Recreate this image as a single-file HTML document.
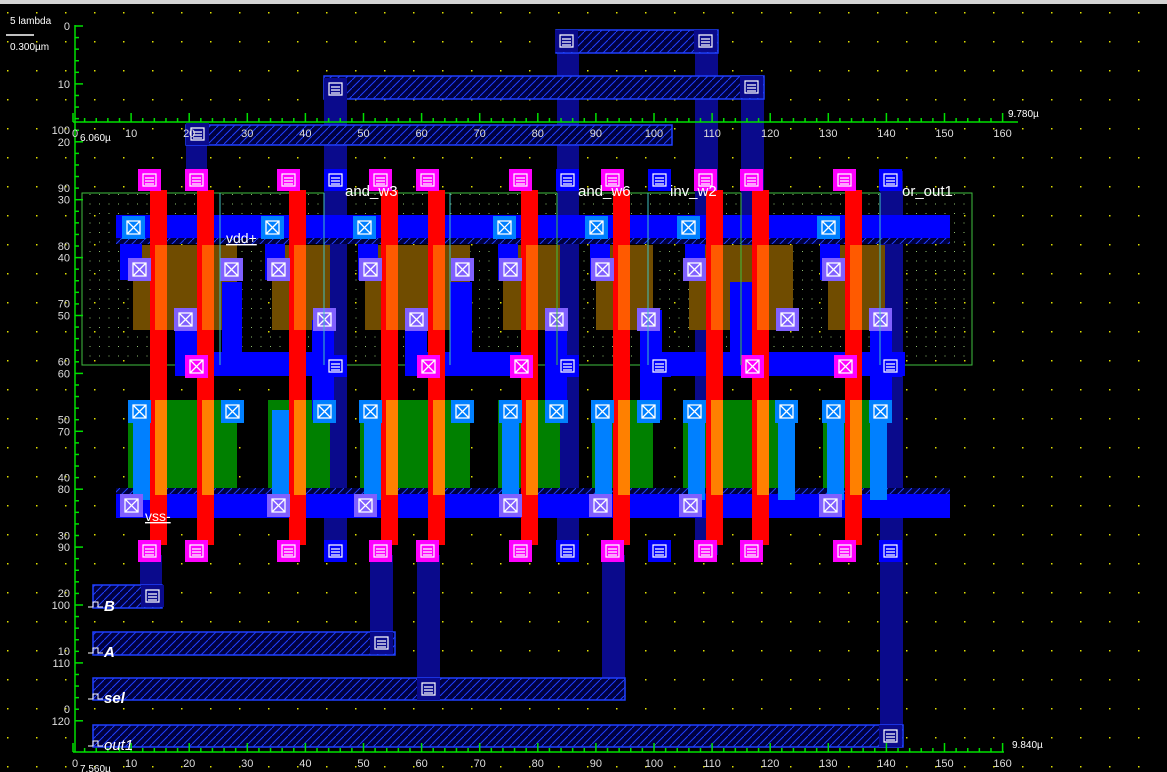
<!DOCTYPE html>
<html><head><meta charset="utf-8"><style>
html,body{margin:0;padding:0;background:#000;width:1167px;height:772px;overflow:hidden}
svg{display:block}
text{font-family:"Liberation Sans",sans-serif}
</style></head><body>
<svg id="L" width="1167" height="772" viewBox="0 0 1167 772">
<defs>
<pattern id="hatch" width="8" height="8" patternUnits="userSpaceOnUse"><rect width="8" height="8" fill="#000040"/><path d="M-2,10 L10,-2" stroke="#1f3fff" stroke-width="1"/></pattern>
<pattern id="cellgrid" width="9.5" height="9.5" patternUnits="userSpaceOnUse"><rect x="4" y="4" width="1" height="1" fill="#8fbf6f"/></pattern>
</defs>
<rect x="0" y="0" width="1167" height="4" fill="#d4d4d4"/>
<g id="grid"></g>
<rect x="82" y="193" width="890" height="172" fill="url(#cellgrid)" stroke="#3fbf3f" stroke-width="1"/>
<g id="layers"></g>
<g id="axes"></g>
<g id="labels"></g>
</svg>
<script>
const NS='http://www.w3.org/2000/svg';
const svg=document.getElementById('L');
const layers=document.getElementById('layers');
function R(g,x,y,w,h,fill,stroke,name){const r=document.createElementNS(NS,'rect');r.setAttribute('x',x);r.setAttribute('y',y);r.setAttribute('width',w);r.setAttribute('height',h);r.setAttribute('fill',fill);if(stroke){r.setAttribute('stroke',stroke);r.setAttribute('stroke-width',1.5);}


g.appendChild(r);return r;}
function T(g,x,y,s,size,fill,extra,name){const t=document.createElementNS(NS,'text');t.setAttribute('x',x);t.setAttribute('y',y);t.setAttribute('font-size',size);t.setAttribute('fill',fill);if(extra)for(const k in extra)t.setAttribute(k,extra[k]);t.textContent=s;


g.appendChild(t);return t;}
const grid=document.getElementById('grid');
for(let y=12;y<772;y+=29)for(let x=7;x<1167;x+=29){const r=document.createElementNS(NS,'rect');r.setAttribute('x',x);r.setAttribute('y',y);r.setAttribute('width',1.5);r.setAttribute('height',1.5);r.setAttribute('fill','#e0e000');grid.appendChild(r);}
const polyX=[150,197,289,381,428,521,613,706,752,845];
const pdiff=[[133,104],[272,58],[365,105],[503,57],[596,57],[689,104],[828,57]];
const ndiff=[[128,109],[268,62],[360,110],[498,62],[592,61],[683,110],[823,62]];
const m2v=[[186,125,21,45],[324,76,23,480],[557,30,22,525],[695,30,23,525],[741,76,23,290],[880,171,23,575],[140,555,22,53],[370,555,23,100],[417,555,23,145],[602,555,23,145]];
const m2bars=[[556,30,162,23],[324,76,440,23],[186,125,486,20],[93,585,69,23],[93,632,302,23],[93,678,532,22],[93,725,810,22]];
const m1h=[[116,215,834,25],[116,493,834,25],[175,352,155,24],[405,352,120,24],[640,352,140,24],[735,352,150,24],[870,352,35,24]];
const m1v=[[175,310,22,66],[222,282,20,70],[312,320,22,100],[405,310,22,66],[450,282,22,94],[545,310,22,110],[640,310,22,110],[730,282,22,94],[870,310,22,110],[120,240,22,40],[265,240,20,40],[358,240,20,40],[498,240,20,40],[590,240,20,40],[685,240,20,40],[820,240,20,40]];
const ndiffContacts=[139,232,324,370,462,510,556,602,648,694,786,833,880];
const ldStrips=[[133,410,17,90],[272,410,17,90],[364,410,17,90],[502,410,17,90],[595,410,17,90],[688,410,17,90],[827,410,17,90],[870,410,17,90],[778,410,17,90]];
const pTop=[139,231,278,370,462,510,602,694,833];
const pMid=[185,324,416,556,648,787,880];
const vssCont=[131,278,365,510,600,690,830];
const vddCont=[133,272,364,504,596,688,828];
const m2top=[335,567,659,890];
m2v.forEach(a=>R(layers,a[0],a[1],a[2],a[3],'#0a0a8c',null,'metal2-wire'));
m2bars.forEach(a=>R(layers,a[0],a[1],a[2],a[3],'url(#hatch)','#1f3fff','metal2-pin-bar'));
pdiff.forEach(a=>R(layers,a[0],245,a[1],85,'#704c00',null,'p-diffusion'));
ndiff.forEach(a=>R(layers,a[0],400,a[1],95,'#008000',null,'n-diffusion'));
m1h.forEach(a=>R(layers,a[0],a[1],a[2],a[3],'#0000ff',null,'metal1-wire'));
m1v.forEach(a=>R(layers,a[0],a[1],a[2],a[3],'#0000ff',null,'metal1-wire'));
R(layers,116,238,834,6,'url(#hatch)',null,'vdd-hatch');
R(layers,116,488,834,6,'url(#hatch)',null,'vss-hatch');
ldStrips.forEach(a=>R(layers,a[0],a[1],a[2],a[3],'#0080ff',null,'ndiff-strap'));
polyX.forEach(x=>{R(layers,x,190,17,355,'#ff0000',null,'poly-gate');R(layers,x+5,245,12,85,'#ff5a00',null,'gate-p');R(layers,x+5,400,12,95,'#ff8000',null,'gate-n');});
function contact(x,y,fill,name){R(layers,x,y,23,23,fill,null,name);const g=document.createElementNS(NS,'path');g.setAttribute('d',`M${x+5},${y+5}h13v13h-13zM${x+5},${y+5}L${x+18},${y+18}M${x+18},${y+5}L${x+5},${y+18}`);g.setAttribute('stroke','#fff');g.setAttribute('fill','none');g.setAttribute('stroke-width','1.3');layers.appendChild(g);}
function via(x,y,fill,name){R(layers,x,y,23,22,fill,null,name);const g=document.createElementNS(NS,'path');g.setAttribute('d',`M${x+5},${y+5}h13v12h-13zM${x+7},${y+9}h9M${x+7},${y+12}h9M${x+7},${y+15}h9`);g.setAttribute('stroke','#fff');g.setAttribute('fill','none');g.setAttribute('stroke-width','1.2');layers.appendChild(g);}
polyX.forEach(x=>{via(x-12,169,'#ff00ff','poly-pad-top');via(x-12,540,'#ff00ff','poly-pad-bottom');});
m2top.forEach(c=>{via(c-11,169,'#0000ff','via-top');via(c-11,540,'#0000ff','via-bottom');via(c-11,355,'#0000ff','via-mid');});
ndiffContacts.forEach(c=>contact(c-11,400,'#0080ff','ndiff-contact'));
pTop.forEach(c=>contact(c-11,258,'#8060ff','pdiff-contact'));
pMid.forEach(c=>contact(c-11,308,'#8060ff','pdiff-contact'));
vssCont.forEach(c=>contact(c-11,494,'#8060ff','vss-contact'));
vddCont.forEach(c=>contact(c-11,216,'#0080ff','vdd-contact'));
[196,428,521,752,845].forEach(c=>contact(c-11,355,'#ff00ff','poly-contact'));
[[335,88],[152,595],[381,642],[428,688],[890,735],[566,40],[705,40],[751,86],[197,133]].forEach(a=>{via(a[0]-11,a[1]-10,'#0a0a8c','m2-via')});
[220,324,450,557,648,741,880].forEach(x=>{const l=document.createElementNS(NS,'line');l.setAttribute('x1',x);l.setAttribute('x2',x);l.setAttribute('y1',193);l.setAttribute('y2',365);l.setAttribute('stroke',x%2?'#3fbf3f':'#40c0c0');layers.appendChild(l);});
const ax=document.getElementById('axes');
function L(x1,y1,x2,y2){const l=document.createElementNS(NS,'line');l.setAttribute('x1',x1);l.setAttribute('y1',y1);l.setAttribute('x2',x2);l.setAttribute('y2',y2);l.setAttribute('stroke','#00e000');l.setAttribute('stroke-width','1.5');ax.appendChild(l);return l;}
const xTicks=[0,10,20,30,40,50,60,70,80,90,100,110,120,130,140,150,160];
const yAsc=[0,10,20,30,40,50,60,70,80,90,100,110,120];
const yDesc=[100,90,80,70,60,50,40,30,20,10,0];
const xs=v=>73+v*5.81, ya=v=>26+v*5.79, yd=v=>130+(100-v)*5.79;
L(75,25,75,752);L(73,752,1004,752);L(73,122,1018,122);
for(let v=0;v<=160;v+=2){const big=v%10==0;L(xs(v),752,xs(v),752-(big?9:4));L(xs(v),122,xs(v),122-(big?9:4));}
for(let v=0;v<=120;v+=2){L(75,ya(v),75+(v%10==0?8:4),ya(v));}
xTicks.forEach(v=>{T(ax,xs(v)+(v?0:2),137,String(v),11,'#ddd',{'text-anchor':'middle'},'x-tick-top');T(ax,xs(v)+(v?0:2),767,String(v),11,'#ddd',{'text-anchor':'middle'},'x-tick-bottom');});
yAsc.forEach(v=>T(ax,70,ya(v)+4,String(v),11,'#ddd',{'text-anchor':'end'},'y-tick'));
yDesc.forEach(v=>T(ax,70,yd(v)+4,String(v),11,'#ddd',{'text-anchor':'end'},'y-tick'));
const lb=document.getElementById('labels');
T(lb,10,24,'5 lambda',10,'#fff',null,'scale-label');
L(6,35,34,35).setAttribute('stroke','#fff');
T(lb,10,50,'0.300µm',10,'#fff',null,'scale-value');
T(lb,80,141,'6.060µ',10,'#fff',null,'coord-label');
T(lb,1008,117,'9.780µ',10,'#fff',null,'coord-label');
T(lb,1012,748,'9.840µ',10,'#fff',null,'coord-label');
T(lb,80,772,'7.560µ',10,'#fff',null,'coord-label');
[['and_w3',345],['and_w6',578],['inv_w2',670],['or_out1',902]].forEach(a=>T(lb,a[1],196,a[0],15,'#fff',null,'instance-label'));
T(lb,226,243,'vdd+',14,'#fff',{'text-decoration':'underline'},'vdd-label');
T(lb,145,521,'vss-',14,'#fff',{'text-decoration':'underline'},'vss-label');
[['B',611],['A',657],['sel',703],['out1',750]].forEach(a=>{T(lb,104,a[1],a[0],15,'#fff',{'font-style':'italic','font-weight':a[0]=='out1'?'normal':'bold'},'pin-label');
const p=document.createElementNS(NS,'path');p.setAttribute('d',`M88,${a[1]-4}h5v-5h5v5h5`);p.setAttribute('stroke','#fff');p.setAttribute('fill','none');lb.appendChild(p);});
</script>
</body></html>
